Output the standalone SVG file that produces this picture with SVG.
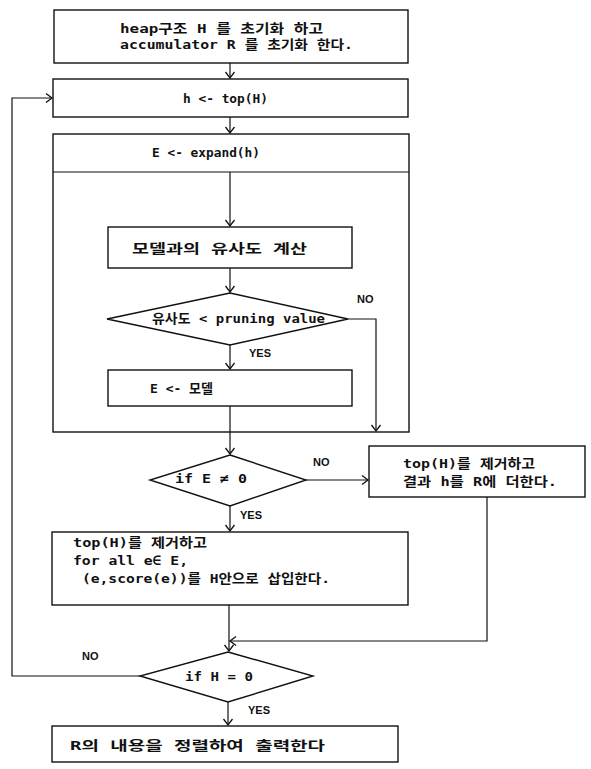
<svg xmlns="http://www.w3.org/2000/svg" width="591" height="769" viewBox="0 0 591 769">
<defs>
<marker id="ah" markerUnits="userSpaceOnUse" markerWidth="12" markerHeight="12" viewBox="-8 -6 10 12" refX="0" refY="0" orient="auto">
<path d="M-6,-4.5 L0,0 L-6,4.5" fill="none" stroke="#111" stroke-width="1.3"/>
</marker>
</defs>
<style>
.b{fill:#fff;stroke:#111;stroke-width:1.4}
.c{fill:none;stroke:#111;stroke-width:1.2}
.t{font-family:"DejaVu Sans Mono","Noto Sans CJK KR",monospace;font-size:13px;font-weight:bold;fill:#111;dominant-baseline:central}
.l{font-family:"Liberation Sans Narrow","Liberation Sans",sans-serif;font-size:11px;font-weight:bold;fill:#111;dominant-baseline:central}
</style>
<rect width="591" height="769" fill="#fff"/>
<g id="init">
<rect class="b" x="54" y="10" width="354" height="53"/>
<text class="t" x="120" y="28" textLength="203" lengthAdjust="spacingAndGlyphs">heap구조 H 를  초기화 하고</text>
<text class="t" x="120" y="44" textLength="233" lengthAdjust="spacingAndGlyphs">accumulator R 를 초기화 한다.</text>
</g>
<g id="top">
<rect class="b" x="53" y="79" width="355" height="38"/>
<text class="t" x="183" y="98" textLength="85" lengthAdjust="spacingAndGlyphs">h &lt;- top(H)</text>
</g>
<g id="expand">
<rect class="b" x="53" y="134" width="356" height="298"/>
<line class="c" x1="53" y1="172" x2="409" y2="172"/>
<text class="t" x="152" y="152" textLength="108" lengthAdjust="spacingAndGlyphs">E &lt;- expand(h)</text>
</g>
<g id="similarity">
<rect class="b" x="108" y="227" width="244" height="41"/>
<text class="t" x="132" y="248" textLength="175" lengthAdjust="spacingAndGlyphs">모델과의 유사도  계산</text>
</g>
<g id="prune">
<polygon class="b" points="230,293 348,319 230,345 107,319"/>
<text class="t" x="152" y="318" textLength="173" lengthAdjust="spacingAndGlyphs">유사도 &lt; pruning value</text>
</g>
<g id="assign">
<rect class="b" x="108" y="370" width="244" height="36"/>
<text class="t" x="150" y="388" textLength="63" lengthAdjust="spacingAndGlyphs">E &lt;- 모델</text>
</g>
<g id="checkE">
<polygon class="b" points="230,455 306,480 230,506 150,480"/>
<text class="t" x="175" y="478" textLength="72" lengthAdjust="spacingAndGlyphs">if E ≠ 0</text>
</g>
<g id="removeAdd">
<rect class="b" x="369" y="446" width="216" height="51"/>
<text class="t" x="403" y="463" textLength="132" lengthAdjust="spacingAndGlyphs">top(H)를 제거하고</text>
<text class="t" x="403" y="481" textLength="154" lengthAdjust="spacingAndGlyphs">결과 h를 R에 더한다.</text>
</g>
<g id="insert">
<rect class="b" x="52" y="532" width="356" height="73"/>
<text class="t" x="73" y="542" textLength="134" lengthAdjust="spacingAndGlyphs">top(H)를 제거하고</text>
<text class="t" x="73" y="560" textLength="115" lengthAdjust="spacingAndGlyphs">for all e∈ E,</text>
<text class="t" x="82" y="578" textLength="248" lengthAdjust="spacingAndGlyphs">(e,score(e))를 H안으로 삽입한다.</text>
</g>
<g id="checkH">
<polygon class="b" points="228,652 313,676 228,702 140,676"/>
<text class="t" x="185" y="676" textLength="68" lengthAdjust="spacingAndGlyphs">if H = 0</text>
</g>
<g id="output">
<rect class="b" x="52" y="726" width="346" height="36"/>
<text class="t" x="70" y="745" textLength="255" lengthAdjust="spacingAndGlyphs">R의 내용을  정렬하여 출력한다</text>
</g>
<g id="connectors">
<path class="c" d="M230,63 V78" marker-end="url(#ah)"/>
<path class="c" d="M230,117 V133" marker-end="url(#ah)"/>
<path class="c" d="M230,172 V226" marker-end="url(#ah)"/>
<path class="c" d="M230,268 V292" marker-end="url(#ah)"/>
<path class="c" d="M348,319 H376 V431" marker-end="url(#ah)"/>
<path class="c" d="M230,345 V369" marker-end="url(#ah)"/>
<path class="c" d="M230,406 V454" marker-end="url(#ah)"/>
<path class="c" d="M306,480 H368" marker-end="url(#ah)"/>
<path class="c" d="M230,506 V531" marker-end="url(#ah)"/>
<path class="c" d="M229,605 V651" marker-end="url(#ah)"/>
<path class="c" d="M487,497 V641 H230" marker-end="url(#ah)"/>
<path class="c" d="M140,676 H12 V98 H52" marker-end="url(#ah)"/>
<path class="c" d="M228,702 V725" marker-end="url(#ah)"/>
<text class="l" x="357" y="299">NO</text>
<text class="l" x="249" y="353">YES</text>
<text class="l" x="313" y="462">NO</text>
<text class="l" x="240" y="515">YES</text>
<text class="l" x="82" y="656">NO</text>
<text class="l" x="248" y="710">YES</text>
</g>
</svg>
